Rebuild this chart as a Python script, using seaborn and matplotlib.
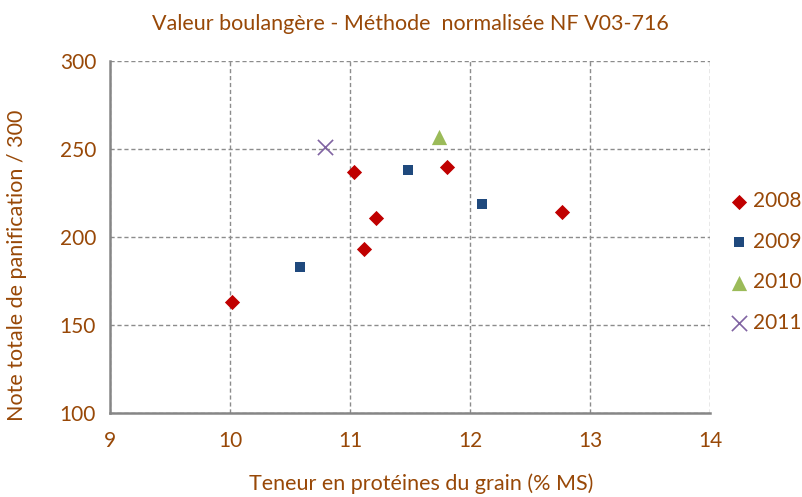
import pandas as pd
import matplotlib.pyplot as plt
import seaborn as sns

# protein content (% MS) and bread-making score per harvest year
prot_2008 = [10.02, 11.03, 11.22, 11.12, 11.81, 12.77]
note_2008 = [163, 237, 211, 193, 240, 214]
prot_2009 = [10.58, 11.48, 12.10]
note_2009 = [183, 238, 219]
prot_2010 = [11.74]
note_2010 = [257]
prot_2011 = [10.79]
note_2011 = [251]

years = ["2008", "2009", "2010", "2011"]
colors = {"2008": "#C00000", "2009": "#1F497D", "2010": "#9BBB59", "2011": "#8064A2"}
markers = {"2008": "D", "2009": "s", "2010": "^", "2011": "x"}
sizes = {"2008": 60, "2009": 60, "2010": 120, "2011": 120}

df = pd.concat([
    pd.DataFrame({"prot": prot_2008, "note": note_2008, "annee": "2008"}),
    pd.DataFrame({"prot": prot_2009, "note": note_2009, "annee": "2009"}),
    pd.DataFrame({"prot": prot_2010, "note": note_2010, "annee": "2010"}),
    pd.DataFrame({"prot": prot_2011, "note": note_2011, "annee": "2011"}),
])

sns.set_style("white")
plt.rcParams['font.family'] = ['Lato', 'DejaVu Sans']
brown = "#984807"

fig = plt.figure(figsize=(8.03, 4.97), dpi=100)
ax = fig.add_axes([110 / 803, 1 - 413 / 497, 600 / 803, 352 / 497])

for yr in years:
    sub = df[df["annee"] == yr]
    sns.scatterplot(data=sub, x="prot", y="note", ax=ax, color=colors[yr],
                    marker=markers[yr], s=sizes[yr], label=yr,
                    linewidth=1.2 if yr == "2011" else 0, zorder=3)

ax.set_xlim(9, 14)
ax.set_ylim(100, 300)
ax.set_xticks([9, 10, 11, 12, 13, 14])
ax.set_yticks([100, 150, 200, 250, 300])
ax.grid(True, color="#8c8c8c", linestyle=(0, (3, 2)), linewidth=1.0)
ax.set_axisbelow(True)

for side in ["top", "right"]:
    ax.spines[side].set_visible(False)
for side in ["left", "bottom"]:
    ax.spines[side].set_color("#868686")
    ax.spines[side].set_linewidth(1.8)

ax.tick_params(axis="both", colors="#868686", length=6, width=1.2, direction="out",
               labelcolor=brown, labelsize=15, pad=4)
ax.tick_params(axis="x", pad=7)

ax.set_xlabel("Teneur en protéines du grain (% MS)", color=brown, fontsize=15.5)
ax.xaxis.set_label_coords(0.518, -0.172)
ax.set_ylabel("Note totale de panification / 300", color=brown, fontsize=15.5)
ax.yaxis.set_label_coords(-0.138, 0.42)
ax.set_title("Valeur boulangère - Méthode  normalisée NF V03-716", color=brown,
             fontsize=15.5, pad=22)

leg = ax.legend(loc="center left", bbox_to_anchor=(729 / 803, 1 - 262 / 497),
                bbox_transform=fig.transFigure, frameon=False,
                fontsize=15, labelspacing=0.98, handletextpad=0.15, handlelength=1.0,
                borderaxespad=0, borderpad=0)
for t in leg.get_texts():
    t.set_color(brown)

fig.savefig("out.png", dpi=100)
